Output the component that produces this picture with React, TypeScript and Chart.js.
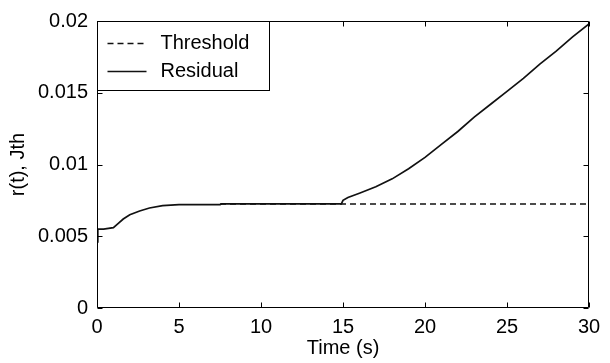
import { useEffect, useRef } from "react";
import { Chart, registerables } from "chart.js";

Chart.register(...registerables);

// Residual r(t) sampled over time (s)
const residualTime = [
  0, 0.05, 0.4, 1.0, 1.3, 1.6, 2.0, 2.6, 3.2, 4.0, 5.0, 7.5, 7.6, 14.9, 15.0,
  15.3, 16, 17, 18, 19, 20, 21, 22, 23, 24, 25, 26, 27, 28, 29, 30,
];
const residualValue = [
  0.0046, 0.0055, 0.0055, 0.0056, 0.0059, 0.0062, 0.0065, 0.00676, 0.00697,
  0.00714, 0.0072, 0.0072, 0.00725, 0.00725, 0.0075, 0.0077, 0.008, 0.00845,
  0.009, 0.0097, 0.0105, 0.0114, 0.0123, 0.0133, 0.0142, 0.0151, 0.016,
  0.017, 0.0179, 0.0189, 0.0198,
];

// Detection threshold Jth
const thresholdTime = [7.5, 30];
const thresholdValue = [0.00725, 0.00725];

const xTicks = [0, 5, 10, 15, 20, 25, 30];
const yTicks = [0, 0.005, 0.01, 0.015, 0.02];
const seriesLabels = ["Threshold", "Residual"];
const xTitle = "Time (s)";
const yTitle = "r(t), Jth";

const FONT = "'Liberation Sans', Arial, sans-serif";
const FONT_SIZE = 20;
const INK = "#000";

const toPoints = (xs: number[], ys: number[]) =>
  xs.map((x, i) => ({ x, y: ys[i] }));

// Box around the plot with short inward tick marks on all four sides
const framePlugin = {
  id: "frameTicks",
  afterDatasetsDraw(chart: any) {
    const { ctx, chartArea } = chart;
    const { left, right, top, bottom } = chartArea;
    const xs = chart.scales.x;
    const ys = chart.scales.y;
    const len = 5;
    ctx.save();
    ctx.strokeStyle = INK;
    ctx.lineWidth = 1;
    const l = Math.round(left) + 0.5;
    const r = Math.round(right) - 0.5;
    const t = Math.round(top) + 0.5;
    const b = Math.round(bottom) - 0.5;
    ctx.beginPath();
    ctx.rect(l, t, r - l, b - t);
    for (const v of xTicks) {
      const px = Math.round(xs.getPixelForValue(v)) + 0.5;
      ctx.moveTo(px, b);
      ctx.lineTo(px, b - len);
      ctx.moveTo(px, t);
      ctx.lineTo(px, t + len);
    }
    for (const v of yTicks) {
      const py = Math.round(ys.getPixelForValue(v)) + 0.5;
      ctx.moveTo(l, py);
      ctx.lineTo(l + len, py);
      ctx.moveTo(r, py);
      ctx.lineTo(r - len, py);
    }
    ctx.stroke();
    ctx.restore();
  },
};

// Boxed legend in the upper-left corner of the plot
const boxLegendPlugin = {
  id: "boxLegend",
  afterDraw(chart: any) {
    const { ctx, chartArea } = chart;
    const x0 = Math.round(chartArea.left) + 0.5;
    const y0 = Math.round(chartArea.top) + 0.5;
    const w = 172;
    const h = 69;
    ctx.save();
    ctx.fillStyle = "#fff";
    ctx.fillRect(x0, y0, w, h);
    ctx.strokeStyle = INK;
    ctx.lineWidth = 1;
    ctx.strokeRect(x0, y0, w, h);
    const rows = [22, 50];
    chart.data.datasets.forEach((ds: any, i: number) => {
      const y = y0 + rows[i];
      ctx.beginPath();
      ctx.setLineDash(ds.borderDash || []);
      ctx.strokeStyle = ds.borderColor;
      ctx.lineWidth = ds.borderWidth;
      ctx.moveTo(x0 + 10, y);
      ctx.lineTo(x0 + 49, y);
      ctx.stroke();
      ctx.setLineDash([]);
      ctx.fillStyle = INK;
      ctx.font = `${FONT_SIZE}px ${FONT}`;
      ctx.textBaseline = "middle";
      ctx.textAlign = "left";
      ctx.fillText(ds.label, x0 + 63, y);
    });
    ctx.restore();
  },
};

export default function App() {
  const canvasRef = useRef<HTMLCanvasElement | null>(null);

  useEffect(() => {
    document.body.style.margin = "0";
    const canvas = canvasRef.current;
    if (!canvas) return;
    const chart = new Chart(canvas, {
      type: "line",
      data: {
        datasets: [
          {
            label: seriesLabels[0],
            data: toPoints(thresholdTime, thresholdValue),
            borderColor: "#111",
            borderWidth: 1.4,
            borderDash: [6, 4],
            pointRadius: 0,
            fill: false,
            tension: 0,
          },
          {
            label: seriesLabels[1],
            data: toPoints(residualTime, residualValue),
            borderColor: "#111",
            borderWidth: 1.7,
            pointRadius: 0,
            fill: false,
            tension: 0,
          },
        ],
      },
      options: {
        animation: false,
        responsive: false,
        maintainAspectRatio: false,
        layout: { padding: { left: 0, top: 21, right: 21, bottom: 0 } },
        plugins: {
          legend: { display: false },
          tooltip: { enabled: false },
        },
        scales: {
          x: {
            type: "linear",
            min: 0,
            max: 30,
            afterBuildTicks: (s: any) => {
              s.ticks = xTicks.map((value) => ({ value }));
            },
            afterFit: (s: any) => {
              s.height = 55;
            },
            grid: { display: false, drawTicks: false },
            border: { display: false },
            ticks: {
              color: INK,
              padding: 7,
              maxRotation: 0,
              autoSkip: false,
              font: { family: FONT, size: FONT_SIZE },
              callback: (v: any) => String(v),
            },
            title: {
              display: true,
              text: xTitle,
              color: INK,
              font: { family: FONT, size: FONT_SIZE },
              padding: { top: 0, bottom: 3 },
            },
          },
          y: {
            type: "linear",
            min: 0,
            max: 0.02,
            afterBuildTicks: (s: any) => {
              s.ticks = yTicks.map((value) => ({ value }));
            },
            afterFit: (s: any) => {
              s.width = 97;
            },
            grid: { display: false, drawTicks: false },
            border: { display: false },
            ticks: {
              color: INK,
              padding: 9,
              autoSkip: false,
              font: { family: FONT, size: FONT_SIZE },
              callback: (v: any) => String(Number(Number(v).toFixed(4))),
            },
            title: {
              display: true,
              text: yTitle,
              color: INK,
              font: { family: FONT, size: FONT_SIZE },
              padding: { top: 6, bottom: 0 },
            },
          },
        },
      },
      plugins: [framePlugin, boxLegendPlugin],
    });
    return () => chart.destroy();
  }, []);

  return (
    <div style={{ width: 610, height: 363 }}>
      <canvas ref={canvasRef} width={610} height={363} />
    </div>
  );
}
